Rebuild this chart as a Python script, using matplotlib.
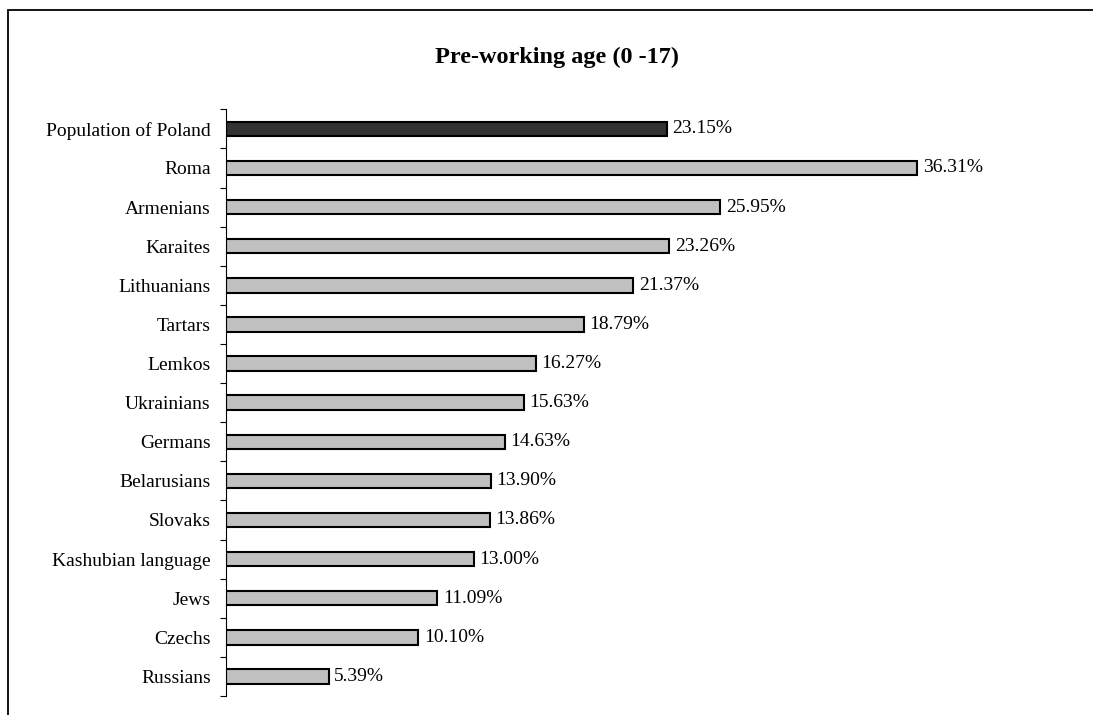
import numpy as np
import matplotlib
matplotlib.use("Agg")
import matplotlib.pyplot as plt
from matplotlib.patches import Rectangle

# ===============================
# DATA
# ===============================
groups = ["Population of Poland", "Roma", "Armenians", "Karaites", "Lithuanians",
          "Tartars", "Lemkos", "Ukrainians", "Germans", "Belarusians", "Slovaks",
          "Kashubian language", "Jews", "Czechs", "Russians"]
shares = [23.15, 36.31, 25.95, 23.26, 21.37, 18.79, 16.27, 15.63, 14.63,
          13.90, 13.86, 13.00, 11.09, 10.10, 5.39]
title = "Pre-working age (0 -17)"

# ===============================
# FIGURE
# ===============================
plt.rcParams['font.family'] = ['Liberation Serif', 'DejaVu Serif']

fig = plt.figure(figsize=(10.93, 7.15), dpi=100)

# outer frame (cut off at right and bottom, like the source)
frame = Rectangle((7.5 / 1093, -0.05), 1.2, 1 - 9.5 / 715 + 0.05,
                  transform=fig.transFigure, fill=False,
                  edgecolor="black", linewidth=1.3)
fig.patches.append(frame)

ax = fig.add_axes([226 / 1093, 1 - 696 / 715, 0.784, (696 - 109.3) / 715])

y = np.arange(len(groups))
colors = ["#333333"] + ["#c0c0c0"] * (len(groups) - 1)
ax.barh(y, shares, height=0.37, color=colors, edgecolor="black", linewidth=1.5)

for yi, v in zip(y, shares):
    ax.text(v + 0.3, yi, f"{v:.2f}%", va="center", ha="left", fontsize=14)

ax.set_ylim(len(groups) - 0.5, -0.5)
ax.set_xlim(0, 45)

ax.set_yticks(y)
ax.set_yticklabels(groups, fontsize=14)
ax.set_yticks(np.arange(len(groups) + 1) - 0.5, minor=True)
ax.tick_params(axis="y", which="major", length=0, pad=11)
ax.tick_params(axis="y", which="minor", length=4, width=0.8, direction="out")
ax.set_xticks([])

for s in ["top", "right", "bottom"]:
    ax.spines[s].set_visible(False)
ax.spines["left"].set_linewidth(0.8)

fig.text(557 / 1093, 1 - 57 / 715, title, ha="center", va="center",
         fontsize=17.5, fontweight="bold")

fig.savefig("out.png", dpi=100)
